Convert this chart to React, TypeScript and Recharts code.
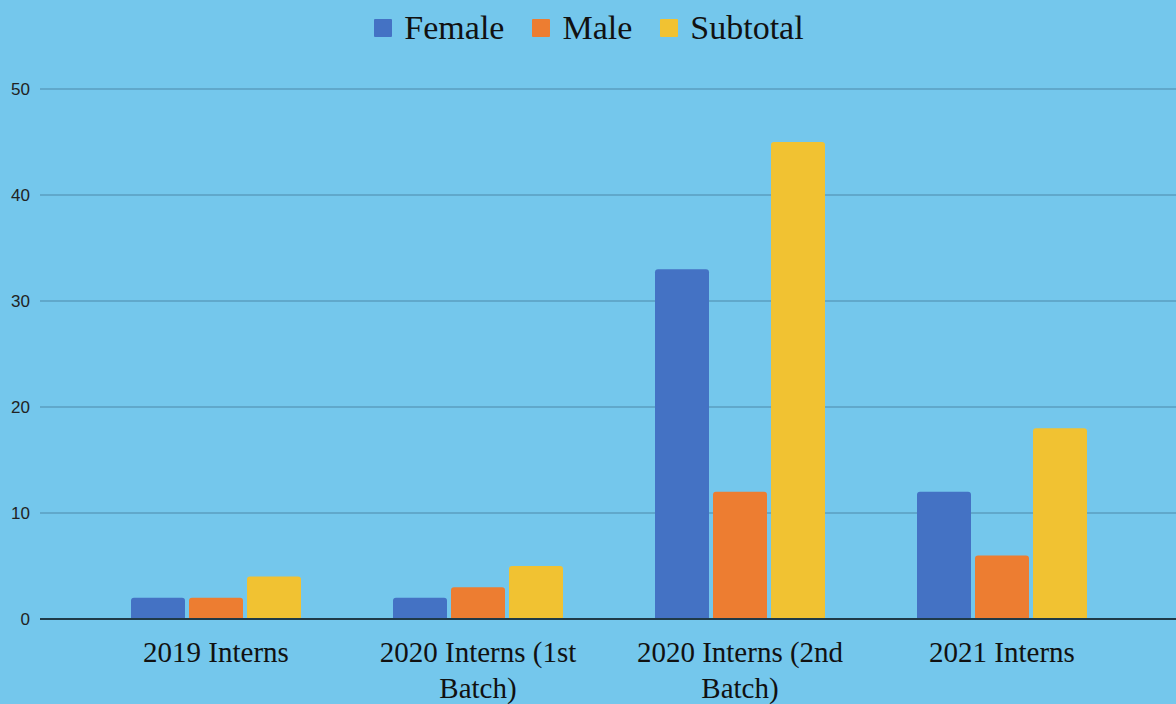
import { BarChart, Bar, XAxis, YAxis, CartesianGrid, Legend } from "recharts";

const categories = ["2019 Interns", "2020 Interns (1st Batch)", "2020 Interns (2nd Batch)", "2021 Interns"];
const female = [2, 2, 33, 12];
const male = [2, 3, 12, 6];
const subtotal = [4, 5, 45, 18];
const yTicks = [0, 10, 20, 30, 40, 50];

const data = categories.map((name, i) => ({
  name,
  Female: female[i],
  Male: male[i],
  Subtotal: subtotal[i],
}));

const SERIF = "'Liberation Serif', 'Times New Roman', serif";
const series = [
  { key: "Female", color: "#4472C4" },
  { key: "Male", color: "#ED7D31" },
  { key: "Subtotal", color: "#F1C232" },
];

// greedy word wrap by character count
function wrap(label: string, maxChars = 17) {
  const lines: string[] = [];
  let cur = "";
  for (const w of label.split(" ")) {
    const next = cur ? cur + " " + w : w;
    if (next.length > maxChars && cur) {
      lines.push(cur);
      cur = w;
    } else {
      cur = next;
    }
  }
  if (cur) lines.push(cur);
  return lines;
}

function CategoryTick(props: any) {
  const { x, y, payload } = props;
  const lines = wrap(String(payload.value));
  return (
    <text x={x} y={y + 35} textAnchor="middle" fill="#111" fontFamily={SERIF} fontSize={29}>
      {lines.map((line, i) => (
        <tspan key={i} x={x} dy={i === 0 ? 0 : 36}>
          {line}
        </tspan>
      ))}
    </text>
  );
}

function LegendRow() {
  return (
    <div
      style={{
        height: 89,
        boxSizing: "border-box",
        paddingTop: 8,
        display: "flex",
        justifyContent: "center",
        alignItems: "flex-start",
        fontFamily: SERIF,
        fontSize: 34,
        lineHeight: "40px",
        color: "#111",
      }}
    >
      {series.map((s) => (
        <div key={s.key} style={{ display: "flex", alignItems: "center", margin: "0 14px" }}>
          <span style={{ width: 18, height: 18, background: s.color, marginRight: 12, borderRadius: 1 }} />
          <span>{s.key}</span>
        </div>
      ))}
    </div>
  );
}

export default function App() {
  return (
    <div
      style={{
        position: "fixed",
        top: 0,
        left: 0,
        width: 1176,
        height: 704,
        overflow: "hidden",
        background: "#74C7EC",
      }}
    >
      <BarChart
        width={1178}
        height={704}
        data={data}
        margin={{ top: 0, right: 0, bottom: 0, left: 0 }}
        barCategoryGap={46}
        barGap={4}
      >
        <CartesianGrid vertical={false} stroke="#5A9EC0" strokeWidth={1.5} />
        <XAxis
          dataKey="name"
          height={85}
          padding={{ left: 45, right: 45 }}
          tickLine={false}
          axisLine={{ stroke: "#1F3A48", strokeWidth: 2 }}
          tick={<CategoryTick />}
          interval={0}
        />
        <YAxis
          width={40}
          domain={[0, 50]}
          ticks={yTicks}
          axisLine={false}
          tickLine={false}
          tickMargin={4}
          tick={{ fill: "#222", fontSize: 17, fontFamily: "'Liberation Sans Narrow', 'Liberation Sans', Arial, sans-serif" }}
        />
        <Legend verticalAlign="top" align="center" content={<LegendRow />} />
        {series.map((s) => (
          <Bar
            key={s.key}
            dataKey={s.key}
            fill={s.color}
            radius={[3, 3, 0, 0]}
            isAnimationActive={false}
          />
        ))}
      </BarChart>
    </div>
  );
}
